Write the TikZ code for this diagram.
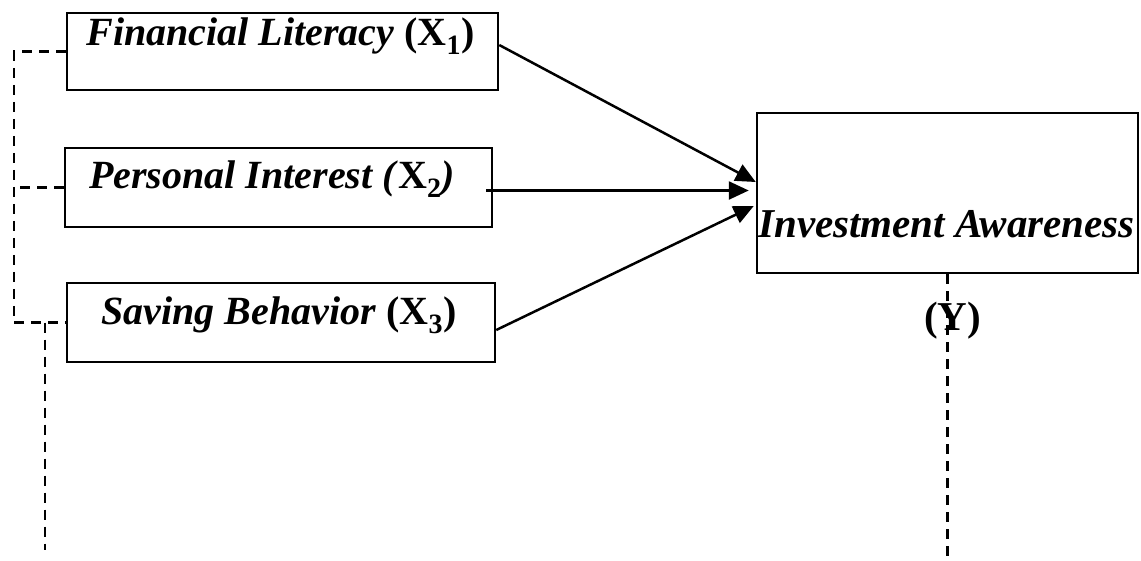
\documentclass[tikz,border=0pt]{standalone}
\usepackage{fontspec}
\setmainfont{Liberation Serif}
\usetikzlibrary{arrows.meta}
\begin{document}
\begin{tikzpicture}[x=1pt,y=-1pt,
  box/.style={draw, line width=2.5pt, inner sep=0pt},
  lbl/.style={inner sep=0pt, anchor=base, font=\fontsize{40}{44}\selectfont\bfseries},
  lblbig/.style={inner sep=0pt, anchor=base, font=\fontsize{41}{45}\selectfont\bfseries},
  dsh/.style={line width=2.5pt, dash pattern=on 10pt off 7pt},
  arr/.style={line width=2.5pt, -{Triangle[length=20pt,width=18pt]}}]
\useasboundingbox (0,0) rectangle (1141,560);
% boxes
\node[box, minimum width=431pt, minimum height=77pt] (b1) at (282.5,51.5) {};
\node[box, minimum width=427pt, minimum height=79pt] (b2) at (278.5,187.5) {};
\node[box, minimum width=428pt, minimum height=79pt] (b3) at (281,322.5) {};
\node[box, minimum width=381pt, minimum height=160pt] (by) at (947.5,193) {};
% labels
\node[lbl] (t1) at (280.5,45) {\textit{Financial Literacy} (X\textsubscript{1})};
\node[lbl] (t2) at (272,188) {\textit{Personal Interest (}X\textsubscript{2}\textit{)}};
\node[lbl] (t3) at (279,324) {\textit{Saving Behavior} (X\textsubscript{3})};
\node[lblbig] (ty) at (946.5,237) {\textit{Investment Awareness}};
\node[lblbig] (tY) at (952.5,330) {(Y)};
% dashed connectors
\coordinate (lb) at (14,322.5);
\coordinate (ld) at (45,550);
\coordinate (rd) at (0,560);
\draw[dsh] (b1.west) -| (lb) -- (b3.west);
\draw[dsh] (b2.west) -- (b2.west -| lb);
\draw[dsh] (ld |- b3.west) -- (ld);
\draw[dsh] (by.south) -- (by.south |- rd);
% arrows
\draw[arr] ([yshift=6.5pt]b1.east) -- ([yshift=11pt]by.west);
\draw[arr] ([xshift=-7pt,yshift=-3pt]b2.east) -- ([xshift=-7pt,yshift=-3pt]b2.east -| by.west);
\draw[arr] ([yshift=-7.5pt]b3.east) -- ([xshift=-2pt,yshift=-13pt]by.west);
\end{tikzpicture}
\end{document}
